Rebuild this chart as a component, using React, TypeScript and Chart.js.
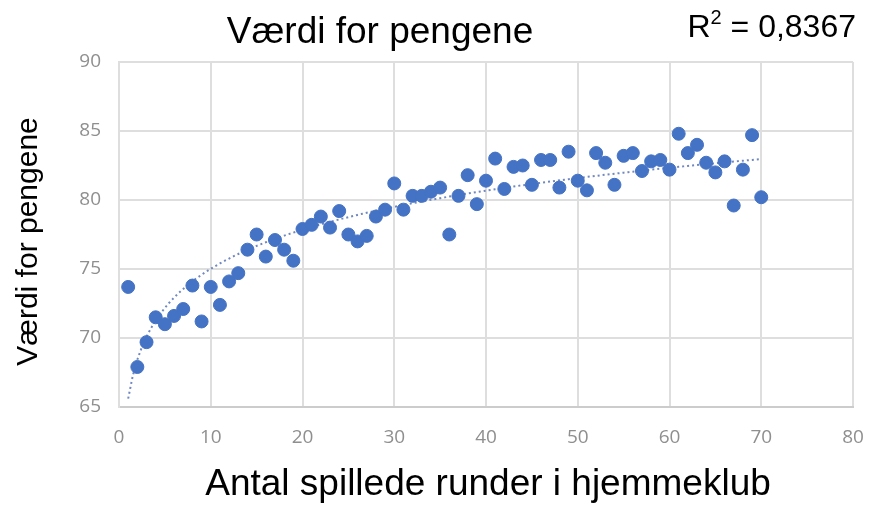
import React, { useEffect, useRef } from 'react';
import { Chart, registerables } from 'chart.js';

Chart.register(...registerables);

// ---- data ----
const rounds = [
  1, 2, 3, 4, 5, 6, 7, 8, 9, 10,
  11, 12, 13, 14, 15, 16, 17, 18, 19, 20,
  21, 22, 23, 24, 25, 26, 27, 28, 29, 30,
  31, 32, 33, 34, 35, 36, 37, 38, 39, 40,
  41, 42, 43, 44, 45, 46, 47, 48, 49, 50,
  51, 52, 53, 54, 55, 56, 57, 58, 59, 60,
  61, 62, 63, 64, 65, 66, 67, 68, 69, 70,
];
const values = [
  73.7, 67.9, 69.7, 71.5, 71.0, 71.6, 72.1, 73.8, 71.2, 73.7,
  72.4, 74.1, 74.7, 76.4, 77.5, 75.9, 77.1, 76.4, 75.6, 77.9,
  78.2, 78.8, 78.0, 79.2, 77.5, 77.0, 77.4, 78.8, 79.3, 81.2,
  79.3, 80.3, 80.3, 80.6, 80.9, 77.5, 80.3, 81.8, 79.7, 81.4,
  83.0, 80.8, 82.4, 82.5, 81.1, 82.9, 82.9, 80.9, 83.5, 81.4,
  80.7, 83.4, 82.7, 81.1, 83.2, 83.4, 82.1, 82.8, 82.9, 82.2,
  84.8, 83.4, 84.0, 82.7, 82.0, 82.8, 79.6, 82.2, 84.7, 80.2,
];
const xTickValues = [0, 10, 20, 30, 40, 50, 60, 70, 80];
const yTickValues = [65, 70, 75, 80, 85, 90];
const chartTitle = 'Værdi for pengene';
const xAxisTitle = 'Antal spillede runder i hjemmeklub';
const yAxisTitle = 'Værdi for pengene';
const r2Value = '0,8367';

// logarithmic trendline (least squares on ln x), as Excel does
function logFit(xs: number[], ys: number[]) {
  const n = xs.length;
  const lx = xs.map((x) => Math.log(x));
  const mx = lx.reduce((s, v) => s + v, 0) / n;
  const my = ys.reduce((s, v) => s + v, 0) / n;
  let sxy = 0;
  let sxx = 0;
  for (let i = 0; i < n; i++) {
    sxy += (lx[i] - mx) * (ys[i] - my);
    sxx += (lx[i] - mx) * (lx[i] - mx);
  }
  const a = sxy / sxx;
  return { a, b: my - a * mx };
}

export default function App() {
  const ref = useRef<HTMLCanvasElement | null>(null);

  useEffect(() => {
    const canvas = ref.current;
    if (!canvas) return;
    const { a, b } = logFit(rounds, values);
    const xMin = rounds[0];
    const xMax = rounds[rounds.length - 1];
    const trend: { x: number; y: number }[] = [];
    for (let x = xMin; x <= xMax + 1e-9; x += 0.5) {
      trend.push({ x, y: a * Math.log(x) + b });
    }
    const points = rounds.map((x, i) => ({ x, y: values[i] }));

    const textPlugin = {
      id: 'texts',
      afterDraw(chart: any) {
        const ctx = chart.ctx as CanvasRenderingContext2D;
        const area = chart.chartArea;
        ctx.save();
        ctx.fillStyle = '#000000';
        ctx.textBaseline = 'alphabetic';
        // title
        ctx.font = '37px "Liberation Sans", Arial, sans-serif';
        ctx.textAlign = 'center';
        ctx.fillText(chartTitle, 380, 43);
        // x title
        ctx.fillText(xAxisTitle, (area.left + area.right) / 2 + 2, 495);
        // y title
        ctx.save();
        ctx.font = '30px "Liberation Sans", Arial, sans-serif';
        ctx.translate(37, (area.top + area.bottom) / 2 + 7);
        ctx.rotate(-Math.PI / 2);
        ctx.textAlign = 'center';
        ctx.fillText(yAxisTitle, 0, 0);
        ctx.restore();
        // R^2 label
        ctx.textAlign = 'left';
        const big = '32px "Liberation Sans", Arial, sans-serif';
        const small = '20px "Liberation Sans", Arial, sans-serif';
        const rest = ' = ' + r2Value;
        ctx.font = big;
        const wR = ctx.measureText('R').width;
        const wRest = ctx.measureText(rest).width;
        ctx.font = small;
        const w2 = ctx.measureText('2').width;
        let x = 856 - (wR + w2 + wRest);
        ctx.font = big;
        ctx.fillText('R', x, 37);
        x += wR;
        ctx.font = small;
        ctx.fillText('2', x, 24);
        x += w2;
        ctx.font = big;
        ctx.fillText(rest, x, 37);
        ctx.restore();
      },
    };

    const chart = new Chart(canvas, {
      type: 'scatter',
      data: {
        datasets: [
          {
            label: 'Værdi for pengene',
            data: points,
            backgroundColor: '#4472C4',
            borderColor: '#4472C4',
            pointRadius: 6.5,
            pointHoverRadius: 6.5,
            order: 0,
          },
          {
            type: 'line',
            label: 'Trend',
            data: trend,
            borderColor: '#7088c0',
            borderWidth: 2,
            borderDash: [2, 3],
            pointRadius: 0,
            fill: false,
            tension: 0,
            order: 1,
          } as any,
        ],
      },
      options: {
        responsive: false,
        animation: false,
        devicePixelRatio: 1,
        layout: { padding: { top: 62, right: 19, left: 0, bottom: 0 } },
        plugins: {
          legend: { display: false },
          title: { display: false },
          tooltip: { enabled: false },
        },
        scales: {
          x: {
            type: 'linear',
            min: 0,
            max: 80,
            afterFit: (s: any) => {
              s.height = 98;
              s.paddingLeft = 0;
              s.paddingRight = 0;
            },
            afterBuildTicks: (s: any) => {
              s.ticks = xTickValues.map((v) => ({ value: v }));
            },
            ticks: {
              color: '#8f8f8f',
              font: { family: '"Open Sans", sans-serif', size: 19 },
              padding: 19,
            },
            grid: { color: '#dedede', lineWidth: 2, drawTicks: false },
            border: { color: '#cccccc', width: 2 },
          },
          y: {
            type: 'linear',
            min: 65,
            max: 90,
            afterFit: (s: any) => {
              s.width = 119;
              s.paddingTop = 0;
              s.paddingBottom = 0;
            },
            afterBuildTicks: (s: any) => {
              s.ticks = yTickValues.map((v) => ({ value: v }));
            },
            ticks: {
              color: '#8f8f8f',
              font: { family: '"Open Sans", sans-serif', size: 19 },
              padding: 18,
            },
            grid: { color: '#dedede', lineWidth: 2, drawTicks: false },
            border: { color: '#dedede', width: 2 },
          },
        },
      },
      plugins: [textPlugin],
    });
    return () => chart.destroy();
  }, []);

  return (
    <div style={{ position: 'absolute', left: 0, top: 0, width: 872, height: 505, background: '#ffffff' }}>
      <canvas ref={ref} width={872} height={505} />
    </div>
  );
}
